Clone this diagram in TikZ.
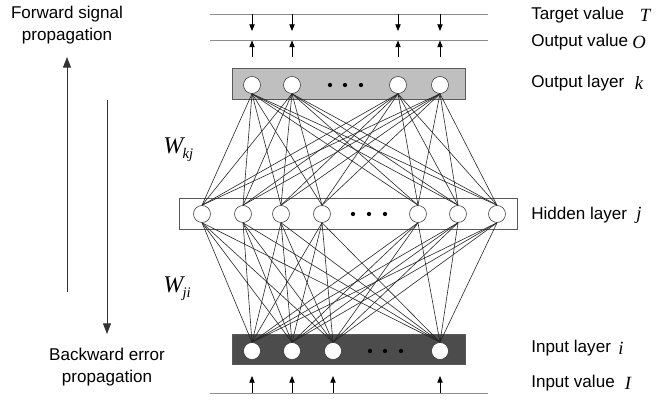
\documentclass[tikz,border=0pt]{standalone}
\usepackage{fontspec}
\setmainfont{Liberation Sans}
\newfontfamily\tnr{Liberation Serif}
\usetikzlibrary{arrows.meta}

\newcommand{\sym}[1]{{\tnr\itshape\fontsize{14}{15}\selectfont #1}}
\newcommand{\wsub}[2]{{\tnr\itshape\fontsize{18}{18}\selectfont #1\kern-0.5pt\raisebox{-0.5ex}{\fontsize{11}{11}\selectfont #2}}}

\begin{document}
\begin{tikzpicture}[x=0.75pt,y=-0.75pt,>={Triangle[length=5pt,width=4pt]},
  unit/.style={circle,draw=black!80,fill=white,minimum size=12.75pt,inner sep=0pt},
  link/.style={line width=0.45pt,black!85},
  tag/.style={font=\fontsize{12.8}{16}\selectfont,inner sep=0pt},
  rail/.style={line width=0.6pt,black!45},
  layerbox/.style={draw=black!65,line width=0.6pt},
  dot/.style={circle,fill=black,inner sep=0pt,minimum size=3.2pt}]

\useasboundingbox (0,0) rectangle (664,404);

% layer boxes
\draw[layerbox,fill=black!25] (232,68) rectangle (465,99);
\draw[layerbox,fill=white] (179,198) rectangle (517,229);
\draw[layerbox,fill=black!70] (232,334) rectangle (465,364);

% output layer k
\node[unit] (o1) at (252,85) {};
\node[unit] (o2) at (292,85) {};
\node[unit] (o3) at (398,85) {};
\node[unit] (o4) at (440,85) {};
\node[dot] (od1) at (330,85) {};
\node[dot] (od2) at (345,85) {};
\node[dot] (od3) at (361,85) {};

% hidden layer j
\node[unit] (h1) at (202,214) {};
\node[unit] (h2) at (243,214) {};
\node[unit] (h3) at (281,214) {};
\node[unit] (h4) at (322,214) {};
\node[unit] (h5) at (418,214) {};
\node[unit] (h6) at (458,214) {};
\node[unit] (h7) at (497,214) {};
\node[dot] (hd1) at (353,214) {};
\node[dot] (hd2) at (369,214) {};
\node[dot] (hd3) at (385,214) {};

% input layer i
\node[unit] (i1) at (252,351) {};
\node[unit] (i2) at (292,351) {};
\node[unit] (i3) at (333,351) {};
\node[unit] (i4) at (440,351) {};
\node[dot] (id1) at (370,351) {};
\node[dot] (id2) at (385,351) {};
\node[dot] (id3) at (401,351) {};

% weights
\foreach \a in {1,...,4}
  \foreach \b in {1,...,7} {
    \draw[link] (o\a.south) to (h\b.north);
    \draw[link] (i\a.north) to (h\b.south);
  }

% value rails
\coordinate (tl) at (210,14);  \coordinate (tr) at (488,14);
\coordinate (ol) at (210,40);  \coordinate (or) at (488,40);
\coordinate (il) at (210,393); \coordinate (ir) at (488,393);
\draw[rail] (tl) -- (tr);
\draw[rail] (ol) -- (or);
\draw[rail] (il) -- (ir);

\foreach \x in {252,292,398,440} {
  \draw[->,line width=0.6pt] (\x,14) -- (\x,31);
  \draw[->,line width=0.6pt] (\x,57) -- (\x,40.5);
}
\foreach \x in {252,292,333,440}
  \draw[->,line width=0.6pt] (\x,393) -- (\x,376);

% propagation arrows
\coordinate (fb) at (67,292); \coordinate (ft) at (67,57);
\coordinate (bt) at (107,100); \coordinate (bb) at (107,334);
\draw[-{Triangle[length=8pt,width=6pt]},line width=0.7pt,black!80] (fb) -- (ft);
\draw[-{Triangle[length=8pt,width=6pt]},line width=0.7pt,black!80] (bt) -- (bb);

\node[tag,align=center] (fwd) at (67,25) {Forward signal\\propagation};
\node[tag,align=center] (bwd) at (107,367) {Backward error\\propagation};

\node[anchor=base west,inner sep=0pt] (wkj) at (163,153) {\wsub{W}{kj}};
\node[anchor=base west,inner sep=0pt] (wji) at (163,292) {\wsub{W}{ji}};

% right labels
\node[tag,anchor=west] (tvtxt) at (531,15) {Target value};
\node[tag] (tsym) at (645,15) {\sym{T}};
\node[tag,anchor=west] (ovtxt) at (531,42) {Output value};
\node[tag] (osym) at (639,42) {\sym{O}};
\node[tag,anchor=west] (oltxt) at (531,83) {Output layer};
\node[tag] (ksym) at (639,83) {\sym{k}};
\node[tag,anchor=west] (hltxt) at (531,215) {Hidden layer};
\node[tag] (jsym) at (639,215) {\sym{j}};
\node[tag,anchor=west] (iltxt) at (531,348) {Input layer};
\node[tag] (isym) at (621,348) {\sym{i}};
\node[tag,anchor=west] (ivtxt) at (531,383) {Input value};
\node[tag] (Isym) at (628,383) {\sym{I}};

\end{tikzpicture}
\end{document}
